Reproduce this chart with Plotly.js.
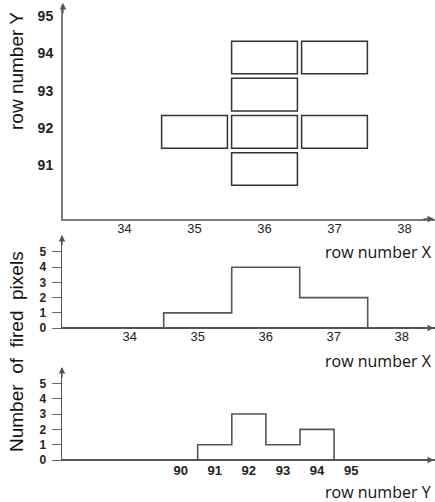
<!DOCTYPE html>
<html>
<head>
<meta charset="utf-8">
<script src="https://cdn.plot.ly/plotly-3.0.1.min.js"></script>
<style>html,body{margin:0;padding:0;background:#fff;}#chart{width:435px;height:502px;}</style>
</head>
<body>
<div id="chart"></div>
<script>
// Fired pixels (cells) in the map: column X, row Y
const cellX = [36, 37, 36, 35, 36, 37, 36];
const cellY = [94, 94, 93, 92, 92, 92, 91];
// Projection onto X
const projXbins = [34, 35, 36, 37, 38];
const projXcounts = [0, 1, 4, 2, 0];
// Projection onto Y
const projYbins = [90, 91, 92, 93, 94, 95];
const projYcounts = [0, 1, 3, 1, 2, 0];
// Tick labels
const topXticks = [34, 35, 36, 37, 38];
const topYticks = [91, 92, 93, 94, 95];
const countTicks = [0, 1, 2, 3, 4, 5];
const botXticks = [90, 91, 92, 93, 94, 95];

const W = 435, H = 502;
const py = p => 1 - p / H;
const px = p => p / W;
const axisCol = '#7a7a7a';
const lineCol = '#555555';
const tickFamily = 'Liberation Sans, Arial, sans-serif';

const traces = [
  {x: projXbins, y: projXcounts, xaxis: 'x2', yaxis: 'y2', type: 'scatter', mode: 'lines',
   line: {shape: 'hvh', color: lineCol, width: 1.6}, hoverinfo: 'skip'},
  {x: projYbins, y: projYcounts, xaxis: 'x3', yaxis: 'y3', type: 'scatter', mode: 'lines',
   line: {shape: 'hvh', color: lineCol, width: 1.6}, hoverinfo: 'skip'}
];

const shapes = cellX.map((cx, i) => ({
  type: 'rect', xref: 'x', yref: 'y',
  x0: cx - 0.47, x1: cx + 0.47, y0: cellY[i] - 0.44, y1: cellY[i] + 0.44,
  line: {color: '#333333', width: 1.5}, fillcolor: 'rgba(0,0,0,0)'
}));

function arrow(xp, yp, ax, ay) {
  return {xref: 'paper', yref: 'paper', x: xp, y: yp, ax: ax, ay: ay, text: '',
    showarrow: true, arrowhead: 2, arrowsize: 1, arrowwidth: 1.3, arrowcolor: '#555'};
}
function label(text, xp, yp, size, family, angle) {
  return {xref: 'paper', yref: 'paper', x: xp, y: yp, text: text, showarrow: false,
    textangle: angle || 0, xanchor: 'center', yanchor: 'middle',
    font: {size: size, family: family, color: '#111'}};
}

const xDom = [px(63), 1];

const layout = {
  width: W, height: H,
  margin: {l: 0, r: 0, t: 0, b: 0},
  paper_bgcolor: '#fff', plot_bgcolor: '#fff',
  showlegend: false,
  xaxis: {domain: xDom, anchor: 'y', range: [33.121, 38.436], showgrid: false, zeroline: false,
    showline: true, linecolor: axisCol, linewidth: 1.5, ticks: '', tickvals: topXticks,
    ticklabelstandoff: -3, tickfont: {size: 13, family: tickFamily, color: '#222'}},
  yaxis: {domain: [py(219), py(5)], anchor: 'x', range: [89.655, 95.412], showgrid: false, zeroline: false,
    showline: true, linecolor: axisCol, linewidth: 2, ticks: '', tickvals: topYticks,
    ticklabelstandoff: 5, ticklabelshift: -4,
    tickfont: {size: 14, family: tickFamily, color: '#222', weight: 'bold'}},
  xaxis2: {domain: [px(62), 1], anchor: 'y2', range: [33.004, 38.49], showgrid: false, zeroline: false,
    showline: false, ticks: '', tickvals: topXticks,
    ticklabelstandoff: -2, tickfont: {size: 13, family: tickFamily, color: '#222'}},
  yaxis2: {domain: [py(329), py(236)], anchor: 'x2', range: [-0.06, 6.05], showgrid: false,
    zeroline: true, zerolinecolor: lineCol, zerolinewidth: 1.6,
    showline: true, linecolor: lineCol, linewidth: 1.5, ticks: 'outside', ticklen: 9, tickcolor: '#666',
    tickwidth: 1, tickvals: countTicks, ticklabelstandoff: 3,
    tickfont: {size: 12, family: tickFamily, color: '#222', weight: 'bold'}},
  xaxis3: {domain: [px(62), 1], anchor: 'y3', range: [86.52, 97.46], showgrid: false, zeroline: false,
    showline: false, ticks: '', tickvals: botXticks,
    ticklabelstandoff: 0, tickfont: {size: 13, family: tickFamily, color: '#222', weight: 'bold'}},
  yaxis3: {domain: [py(461), py(368)], anchor: 'x3', range: [-0.06, 6.0], showgrid: false,
    zeroline: true, zerolinecolor: lineCol, zerolinewidth: 1.6,
    showline: true, linecolor: lineCol, linewidth: 1.5, ticks: 'outside', ticklen: 9, tickcolor: '#666',
    tickwidth: 1, tickvals: countTicks, ticklabelstandoff: 3,
    tickfont: {size: 12, family: tickFamily, color: '#222', weight: 'bold'}},
  shapes: shapes,
  annotations: [
    arrow(px(63), py(3), 0, 12),
    arrow(px(434), py(219), -12, 0),
    arrow(px(62), py(235), 0, 12),
    arrow(px(434), py(328), -12, 0),
    arrow(px(62), py(367), 0, 12),
    arrow(px(434), py(460), -12, 0),
    label('row number Y', px(17), py(71), 19, 'Liberation Sans, Arial, sans-serif', -90),
    label('Number&nbsp;&nbsp;of&nbsp;&nbsp;fired&nbsp;&nbsp;pixels', px(16), py(352), 19, 'Liberation Sans, Arial, sans-serif', -90),
    label('row number X', px(378), py(252), 16, 'Open Sans, sans-serif'),
    label('row number X', px(378), py(361), 16, 'Open Sans, sans-serif'),
    label('row number Y', px(378), py(492), 16, 'Open Sans, sans-serif')
  ]
};

Plotly.newPlot('chart', traces, layout, {staticPlot: true, displayModeBar: false});
</script>
</body>
</html>
